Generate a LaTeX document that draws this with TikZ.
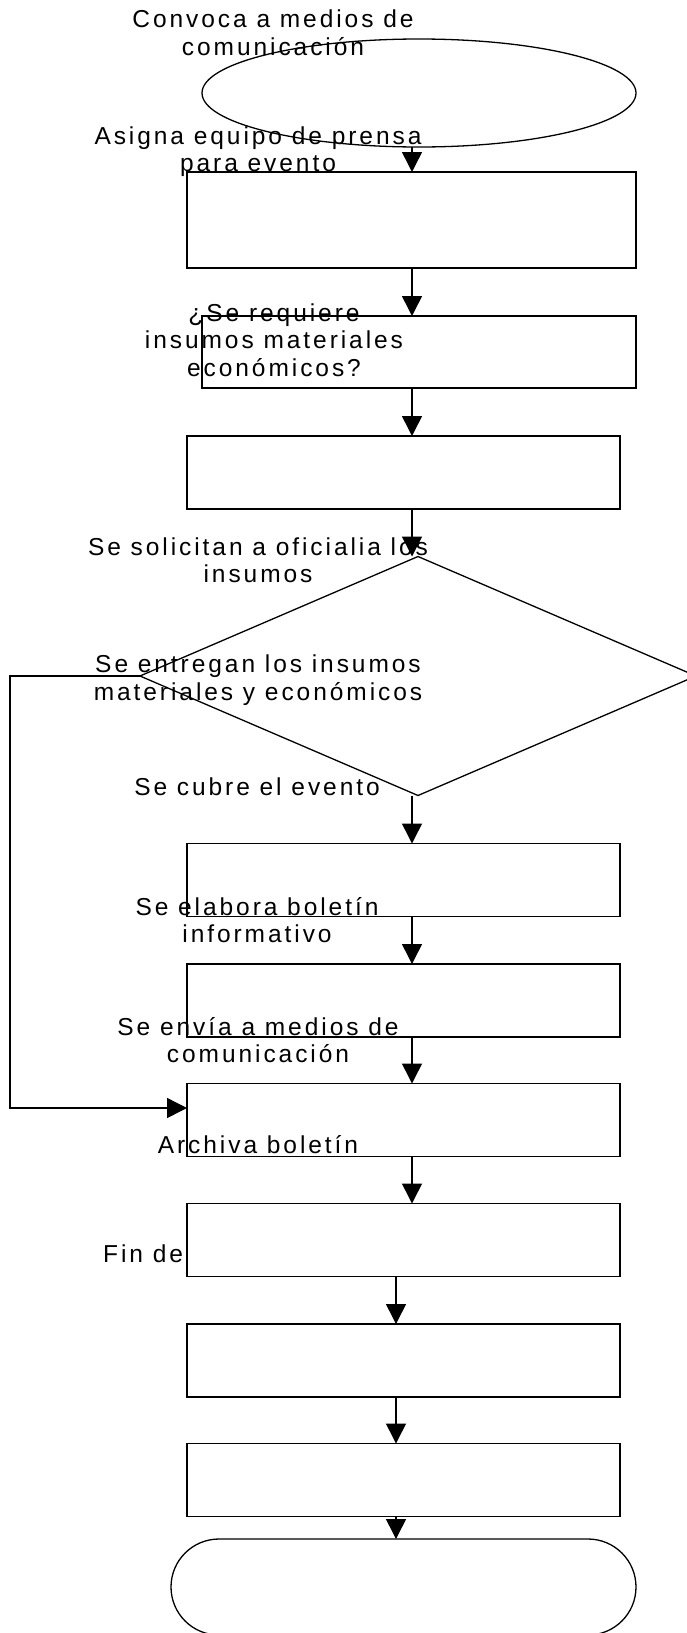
\documentclass[tikz,border=0pt]{standalone}
\usepackage{fontspec}
\setmainfont{Liberation Sans}[LetterSpace=12]
\usetikzlibrary{shapes.geometric,arrows.meta}
\begin{document}
\begin{tikzpicture}[x=1pt,y=-1pt,
  box/.style={draw,line width=1.5pt,rectangle,inner sep=0,outer sep=0,minimum width=433pt,minimum height=73pt},
  lbl/.style={align=center,font=\fontsize{24.5}{27.5}\selectfont,inner sep=0},
  arr/.style={line width=1.5pt,-{Triangle[length=20pt,width=20pt]}}]
\useasboundingbox (0,0) rectangle (687,1633);
\coordinate (colA) at (412,0);
\coordinate (colB) at (396,0);
\coordinate (lx) at (10,1108);

% shapes
\node[draw,line width=1.3pt,ellipse,inner sep=0,outer sep=0,minimum width=434pt,minimum height=108pt] (ell) at (419,93) {};
\node[box,minimum width=449pt,minimum height=96pt] (b1) at (411.5,220) {};
\node[box,minimum width=434pt,minimum height=72pt] (b2) at (419,352) {};
\node[box] (b3) at (403.5,472.5) {};
\node[draw,line width=1.3pt,diamond,inner sep=0,outer sep=0,minimum width=556pt,minimum height=239pt] (dia) at (418,676) {};
\node[box] (b4) at (403.5,880) {};
\node[box] (b5) at (403.5,1000.5) {};
\node[box] (b6) at (403.5,1120) {};
\node[lbl,anchor=west] (t10) at (103,1254) {Fin de};
\node[box,fill=white] (b7) at (403.5,1240) {};
\node[box] (b8) at (403.5,1360.5) {};
\node[box] (b9) at (403.5,1480) {};
\node[draw,line width=1.3pt,rectangle,rounded corners=48pt,inner sep=0,outer sep=0,minimum width=465pt,minimum height=96pt] (term) at (403.5,1587) {};

% connectors
\draw[arr] (ell.south -| colA) -- (b1.north -| colA);
\draw[arr] (b1.south -| colA) -- (b2.north -| colA);
\draw[arr] (b2.south -| colA) -- (b3.north -| colA);
\draw[arr] (b3.south -| colA) -- (dia.north -| colA);
\draw[arr] (dia.south -| colA) -- (b4.north -| colA);
\draw[arr] (b4.south -| colA) -- (b5.north -| colA);
\draw[arr] (b5.south -| colA) -- (b6.north -| colA);
\draw[arr] (b6.south -| colA) -- (b7.north -| colA);
\draw[arr] (b7.south -| colB) -- (b8.north -| colB);
\draw[arr] (b8.south -| colB) -- (b9.north -| colB);
\draw[arr] (b9.south -| colB) -- (term.north -| colB);
\draw[arr] (dia.west) -- (dia.west -| lx) -- (lx) -- (lx -| b6.west);

% labels
\node[lbl] (t1) at (273,32.5) {Convoca a medios de\\comunicación};
\node[lbl] (t2) at (258,151.5) {Asigna equipo de prensa\\para evento};
\node[lbl] (t3) at (274,340) {¿Se requiere\\insumos materiales\\económicos?};
\node[lbl] (t4) at (258,560) {Se solicitan a oficialia los\\insumos};
\node[lbl] (t5) at (258,680) {Se entregan los insumos\\materiales y económicos};
\node[lbl] (t6) at (257,787) {Se cubre el evento};
\node[lbl] (t7) at (257,920) {Se elabora boletín\\informativo};
\node[lbl] (t8) at (258,1040) {Se envía a medios de\\comunicación};
\node[lbl] (t9) at (258,1145) {Archiva boletín};
\end{tikzpicture}
\end{document}
